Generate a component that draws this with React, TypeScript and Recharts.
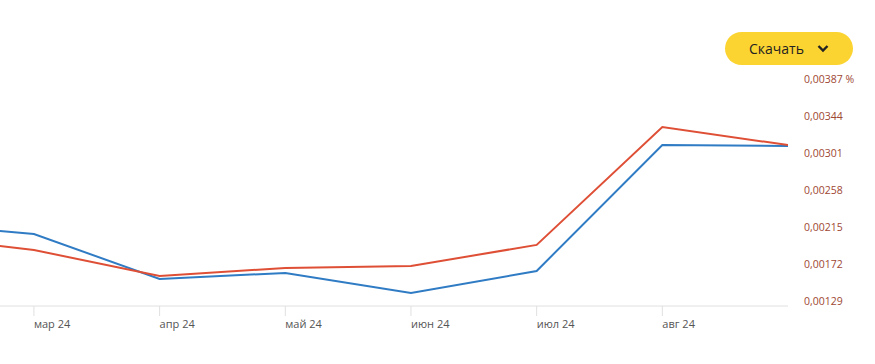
import React from 'react';
import { LineChart, Line, XAxis, YAxis } from 'recharts';

// month index: 0 = мар 24; -1 = фев (off the left edge), 6 = сен
const monthIdx = [-1, 0, 1, 2, 3, 4, 5, 6];
const blueVals = [0.002255, 0.002127, 0.001604, 0.001674, 0.001441, 0.001697, 0.003161, 0.00315];
const redVals = [0.002115, 0.001941, 0.001639, 0.001732, 0.001755, 0.002, 0.00337, 0.00316];
const monthLabels = ['мар 24', 'апр 24', 'май 24', 'июн 24', 'июл 24', 'авг 24'];
const yTicks = [0.00129, 0.00172, 0.00215, 0.00258, 0.00301, 0.00344, 0.00387];

const data = monthIdx.map((m, i) => ({ m, blue: blueVals[i], red: redVals[i] }));

const fmt = (v: number) => v.toFixed(5).replace('.', ',');

const XTick = ({ x, y, payload }: any) => (
  <text x={x} y={y + 10} textAnchor="start" fill="#555" fontSize={11} fontFamily="'Open Sans', sans-serif">
    {monthLabels[payload.value]}
  </text>
);

const YTick = ({ x, y, payload }: any) => (
  <text x={x + 8} y={y - 1} textAnchor="start" fill="#9e4733" fontSize={10.5} fontFamily="'Open Sans', sans-serif">
    {fmt(payload.value) + (payload.value === 0.00387 ? ' %' : '')}
  </text>
);

export default function App() {
  return (
    <div style={{ position: 'absolute', left: 0, top: 0, width: 875, height: 364, background: '#fff' }}>
      <LineChart width={875} height={364} data={data} margin={{ top: 84, right: 0, left: 0, bottom: 0 }}>
        <XAxis
          dataKey="m"
          type="number"
          domain={[-0.27, 6]}
          allowDataOverflow
          ticks={[0, 1, 2, 3, 4, 5]}
          tick={<XTick />}
          tickSize={10}
          tickLine={{ stroke: '#e0e0e0' }}
          axisLine={{ stroke: '#e0e0e0' }}
          height={58}
        />
        <YAxis
          orientation="right"
          type="number"
          domain={[0.00129, 0.00387]}
          ticks={yTicks}
          tick={<YTick />}
          axisLine={false}
          tickLine={false}
          width={87}
        />
        <Line dataKey="blue" stroke="#2f7bc4" strokeWidth={2} dot={false} isAnimationActive={false} />
        <Line dataKey="red" stroke="#de4f36" strokeWidth={2} dot={false} isAnimationActive={false} />
      </LineChart>
      <div
        style={{
          position: 'absolute', left: 725, top: 32, width: 128, height: 33, borderRadius: 17,
          background: '#fcd431', display: 'flex', alignItems: 'center', justifyContent: 'center',
          fontFamily: "'Open Sans', sans-serif", fontSize: 14, color: '#222', gap: 13,
        }}
      >
        <span>Скачать</span>
        <svg width="12" height="9" viewBox="0 0 12 9">
          <polyline points="1.5,2 6,6.5 10.5,2" fill="none" stroke="#222" strokeWidth="2.4" />
        </svg>
      </div>
    </div>
  );
}
